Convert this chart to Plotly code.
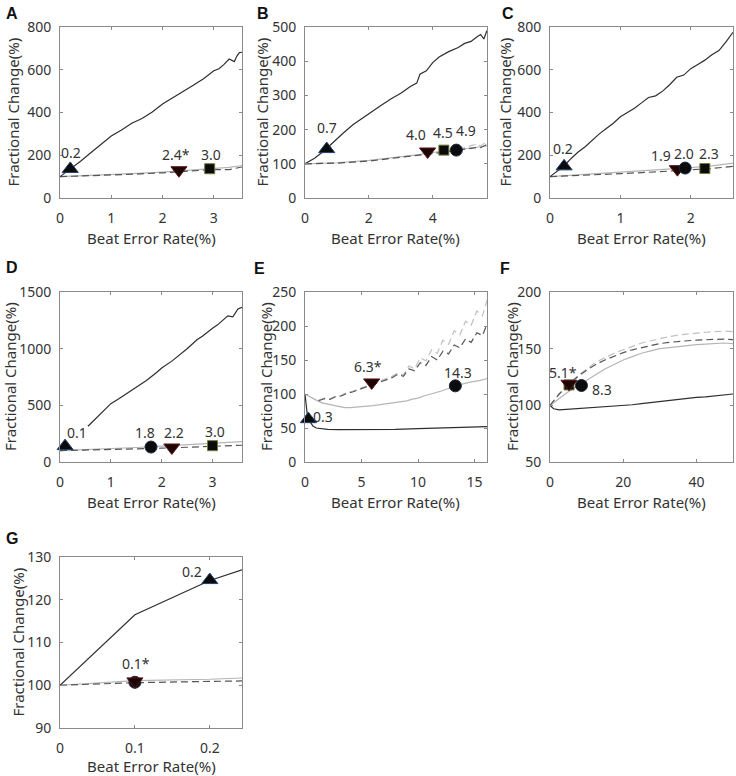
import plotly.graph_objects as go

W, H = 736, 776
FONT = "Noto Sans"
TXT = "#333333"
C_BLACK = "#2e2e2e"
C_GRAY = "#b5b5b5"
C_DDASH = "#555555"
C_LDASH = "#c0c0c0"

# ---------------- Panel A ----------------
A_bx = [0, 0.2, 0.4, 0.6, 0.8, 1.0, 1.2, 1.4, 1.6, 1.8, 2.0, 2.2, 2.4, 2.6, 2.8, 3.0, 3.1, 3.2, 3.3, 3.4, 3.45, 3.5, 3.55]
A_by = [100, 135, 172, 212, 250, 290, 318, 350, 372, 402, 440, 468, 497, 528, 558, 595, 605, 625, 650, 638, 664, 680, 682]
A_gx = [0, 0.5, 1, 1.5, 2, 2.5, 3, 3.3, 3.55]
A_gray = [100, 104, 109, 115, 121, 129, 138, 143, 152]
A_ddash = [100, 103, 107, 112, 118, 125, 133, 133, 145]
A_mk = [("up", 0.2, 136), ("down", 2.32, 130), ("square", 2.92, 137)]
A_lab = [("0.2", 0.22, 215), ("2.4*", 2.26, 202), ("3.0", 2.94, 202)]

# ---------------- Panel B ----------------
B_bx = [0, 0.3, 0.6, 0.9, 1.2, 1.5, 1.8, 2.1, 2.4, 2.7, 3.0, 3.3, 3.5, 3.6, 3.8, 4.0, 4.2, 4.5, 4.8, 5.0, 5.2, 5.4, 5.5, 5.6, 5.65, 5.7]
B_by = [100, 116, 138, 165, 190, 214, 234, 254, 272, 290, 306, 326, 336, 362, 372, 396, 412, 428, 440, 452, 458, 472, 478, 465, 478, 490]
B_gx = [0, 1, 2, 3, 3.5, 4, 4.5, 5, 5.2, 5.4, 5.5, 5.7]
B_gray = [100, 103, 110, 120, 126, 133, 138, 143, 145, 147, 148, 152]
B_ddash = [100, 102, 108, 118, 124, 130, 136, 142, 144, 148, 147, 157]
B_ldash = [100, 103, 109, 119, 125, 132, 139, 147, 153, 158, 152, 166]
B_mk = [("up", 0.68, 143), ("down", 3.84, 136), ("square", 4.35, 140), ("circle", 4.74, 140)]
B_lab = [("0.7", 0.7, 206), ("4.0", 3.48, 186), ("4.5", 4.31, 191), ("4.9", 5.05, 198)]

# ---------------- Panel C ----------------
C_bx = [0, 0.1, 0.2, 0.3, 0.4, 0.5, 0.6, 0.7, 0.8, 0.9, 1.0, 1.1, 1.2, 1.3, 1.4, 1.5, 1.6, 1.7, 1.8, 1.9, 2.0, 2.1, 2.2, 2.3, 2.4, 2.5, 2.6]
C_by = [100, 125, 150, 185, 215, 240, 270, 300, 325, 350, 380, 400, 420, 445, 470, 478, 500, 530, 565, 575, 605, 625, 645, 670, 690, 730, 775]
C_gx = [0, 0.5, 1, 1.5, 2, 2.3, 2.6]
C_gray = [100, 110, 120, 130, 142, 150, 163]
C_ddash = [100, 106, 114, 122, 132, 138, 148]
C_mk = [("up", 0.2, 148), ("down", 1.81, 135), ("circle", 1.92, 140), ("square", 2.2, 138)]
C_lab = [("0.2", 0.18, 233), ("1.9", 1.57, 197), ("2.0", 1.9, 206), ("2.3", 2.26, 210)]

# ---------------- Panel D ----------------
D_bx = [0.55, 0.7, 0.85, 1.0, 1.15, 1.3, 1.5, 1.7, 1.9, 2.0, 2.2, 2.4, 2.5, 2.7, 2.8, 3.0, 3.1, 3.2, 3.3, 3.4, 3.5, 3.58]
D_by = [315, 380, 450, 515, 555, 600, 660, 720, 790, 830, 890, 960, 1000, 1080, 1110, 1180, 1210, 1250, 1290, 1280, 1350, 1365]
D_gx = [0, 0.5, 1, 1.5, 2, 2.5, 3, 3.58]
D_gray = [100, 108, 118, 128, 140, 152, 165, 180]
D_ddash = [100, 104, 110, 116, 122, 130, 138, 148]
D_mk = [("up", 0.1, 140), ("circle", 1.79, 132), ("down", 2.2, 128), ("square", 3.0, 144)]
D_lab = [("0.1", 0.33, 256), ("1.8", 1.67, 256), ("2.2", 2.25, 256), ("3.0", 3.04, 270)]

# ---------------- Panel E ----------------
E_bx = [0, 0.1, 0.2, 0.3, 0.5, 0.7, 1, 1.5, 2, 3, 4, 5, 6, 8, 10, 12, 14, 16, 16.1]
E_by = [100, 80, 70, 63, 57, 53, 50, 48.5, 48, 47.5, 47.5, 47, 47.5, 48, 49, 50, 51, 52, 52]
E_gx = [0, 0.5, 1, 1.5, 2, 2.5, 3, 3.5, 4, 4.5, 5, 5.5, 6, 6.5, 7, 7.5, 8, 8.5, 9, 9.5, 10, 10.5, 11, 11.5, 12, 12.5, 13, 13.5, 14, 14.5, 15, 15.5, 16, 16.1]
E_gray = [100, 95, 91, 87, 85, 83, 81, 80, 80, 80.5, 81, 82, 83, 84, 85, 86.5, 88, 89, 90, 92.5, 94, 97, 99, 102, 104, 107, 110, 113, 115, 117, 118, 120, 122, 123]
E_dx = [1.2, 1.7, 2.2, 2.7, 3.2, 3.7, 4.2, 4.7, 5.2, 5.7, 6.2, 6.7, 7.2, 7.7, 8.2, 8.7, 9.2, 9.7, 10.2, 10.7, 11.2, 11.7, 12.2, 12.7, 13.2, 13.7, 14.2, 14.7, 15.2, 15.7, 16.1]
E_ddash = [90, 93, 92, 96, 97, 101, 103, 106, 109, 113, 116, 118, 122, 124, 129, 126, 137, 134, 146, 142, 155, 150, 163, 159, 172, 168, 181, 176, 190, 186, 203]
E_ldash = [91, 94, 93, 97, 98, 102, 104, 107, 110, 114, 117, 119, 123, 126, 131, 128, 141, 137, 153, 149, 165, 160, 179, 173, 193, 187, 207, 201, 222, 215, 238]
E_mk = [("up", 0.3, 63), ("down", 5.9, 117), ("circle", 13.3, 112)]
E_lab = [("0.3", 1.6, 67), ("6.3*", 5.6, 141), ("14.3", 13.5, 131)]

# ---------------- Panel F ----------------
F_x = [0, 1, 2.5, 5, 7.5, 10, 12.5, 15, 17.5, 20, 22.5, 25, 27.5, 30, 32.5, 35, 37.5, 40, 42.5, 45, 47.5, 50]
F_black = [100, 97, 96, 96.5, 97, 97.5, 98, 98.5, 99, 99.5, 100.5, 101.5, 102.5, 103.5, 104.5, 105.5, 106, 107, 107.5, 108.5, 109.5, 110]
F_gray = [100, 102, 106, 112, 117, 122, 127, 132, 136, 140, 143, 146, 148, 150, 151, 152, 153, 153.5, 154, 154.5, 155, 154.5]
F_ddash = [100, 104, 110, 118, 125, 131, 136, 140, 143.5, 146.5, 149, 151, 153, 154.5, 155.5, 156.5, 157, 157.5, 158, 158, 158.5, 158]
F_ldash = [100, 104, 110, 118, 126, 132, 138, 142, 146, 149, 152, 155, 157, 159, 160.5, 162, 163, 164, 164.5, 165, 165.5, 165]
F_mk = [("square", 5.2, 118), ("down", 5.2, 119), ("circle", 8.6, 117.5)]
F_lab = [("5.1*", 3.6, 129), ("8.3", 14.3, 114)]

# ---------------- Panel G ----------------
G_x = [0, 0.1, 0.2, 0.243]
G_black = [100, 116.5, 124.5, 127]
G_gray = [100, 101.1, 101.4, 101.7]
G_ddash = [100, 100.6, 100.9, 101]
G_mk = [("up", 0.2, 124.6), ("circle", 0.1, 100.7), ("down", 0.1, 100.9)]
G_lab = [("0.2", 0.176, 126.6), ("0.1*", 0.102, 105.1)]

panels = [
    dict(letter="A", box=(60, 27, 242, 198), xr=[0, 3.55], yr=[0, 800], xt=[0, 1, 2, 3], yt=[0, 200, 400, 600, 800],
         lines=[(A_gx, A_gray, C_GRAY, "solid"), (A_gx, A_ddash, C_DDASH, "dash"), (A_bx, A_by, C_BLACK, "solid")],
         mk=A_mk, lab=A_lab, ytx=12, lpos=(12, 13)),
    dict(letter="B", box=(305, 27, 487, 198), xr=[0, 5.7], yr=[0, 500], xt=[0, 2, 4], yt=[0, 100, 200, 300, 400, 500],
         lines=[(B_gx, B_ldash, C_LDASH, "dash"), (B_gx, B_gray, C_GRAY, "solid"), (B_gx, B_ddash, C_DDASH, "dash"), (B_bx, B_by, C_BLACK, "solid")],
         mk=B_mk, lab=B_lab, ytx=261, lpos=(263, 13)),
    dict(letter="C", box=(550, 27, 733, 198), xr=[0, 2.6], yr=[0, 800], xt=[0, 1, 2], yt=[0, 200, 400, 600, 800],
         lines=[(C_gx, C_gray, C_GRAY, "solid"), (C_gx, C_ddash, C_DDASH, "dash"), (C_bx, C_by, C_BLACK, "solid")],
         mk=C_mk, lab=C_lab, ytx=504, lpos=(508, 13)),
    dict(letter="D", box=(60, 292, 242, 462), xr=[0, 3.58], yr=[0, 1500], xt=[0, 1, 2, 3], yt=[0, 500, 1000, 1500],
         lines=[(D_gx, D_gray, C_GRAY, "solid"), (D_gx, D_ddash, C_DDASH, "dash"), (D_bx, D_by, C_BLACK, "solid")],
         mk=D_mk, lab=D_lab, ytx=10, lpos=(12, 267)),
    dict(letter="E", box=(305, 292, 487, 462), xr=[0, 16.1], yr=[0, 250], xt=[0, 5, 10, 15], yt=[0, 50, 100, 150, 200, 250],
         lines=[(E_dx, E_ldash, C_LDASH, "dash"), (E_gx, E_gray, C_GRAY, "solid"), (E_dx, E_ddash, C_DDASH, "dash"), (E_bx, E_by, C_BLACK, "solid")],
         mk=E_mk, lab=E_lab, ytx=266, lpos=(259, 268)),
    dict(letter="F", box=(550, 292, 733, 462), xr=[0, 50], yr=[50, 200], xt=[0, 20, 40], yt=[50, 100, 150, 200],
         lines=[(F_x, F_ldash, C_LDASH, "dash"), (F_x, F_gray, C_GRAY, "solid"), (F_x, F_ddash, C_DDASH, "dash"), (F_x, F_black, C_BLACK, "solid")],
         mk=F_mk, lab=F_lab, ytx=512, lpos=(505, 268)),
    dict(letter="G", box=(60, 557, 242, 728), xr=[0, 0.243], yr=[90, 130], xt=[0, 0.1, 0.2], yt=[90, 100, 110, 120, 130],
         lines=[(G_x, G_gray, C_GRAY, "solid"), (G_x, G_ddash, C_DDASH, "dash"), (G_x, G_black, C_BLACK, "solid")],
         mk=G_mk, lab=G_lab, ytx=17, lpos=(12, 538)),
]

MK = {
    "up": dict(symbol="triangle-up", size=14, color="#0b0b0b", line=dict(color="#1d3f70", width=1)),
    "down": dict(symbol="triangle-down", size=14, color="#1c0505", line=dict(color="#5e1515", width=1)),
    "square": dict(symbol="square", size=10, color="#0b0b0b", line=dict(color="#6f7d35", width=1)),
    "circle": dict(symbol="circle", size=12, color="#0b0b0b", line=dict(color="#1a2645", width=1)),
}

def px(x):
    return x / W

def py(y):
    return 1 - y / H

TITLE_Y = {27: 238, 292: 502, 557: 766}

fig = go.Figure()
layout = dict(template="none", width=W, height=H, margin=dict(l=0, r=0, t=0, b=0, autoexpand=False),
              plot_bgcolor="white", paper_bgcolor="white",
              showlegend=False, font=dict(family=FONT, size=14, color=TXT))
annotations = []

for i, p in enumerate(panels):
    n = "" if i == 0 else str(i + 1)
    xref, yref = "x" + n, "y" + n
    x0, y0, x1, y1 = p["box"]
    axcommon = dict(showgrid=False, zeroline=False, showline=True, linecolor="#8a8a8a", linewidth=1,
                    mirror="ticks", ticks="inside", ticklen=3, tickcolor="#8a8a8a", automargin=False,
                    tickfont=dict(family=FONT, size=14, color=TXT))
    layout["xaxis" + n] = dict(axcommon, domain=[px(x0), px(x1)], range=p["xr"], tickvals=p["xt"],
                               anchor=yref, ticklabelstandoff=7)
    layout["yaxis" + n] = dict(axcommon, domain=[py(y1), py(y0)], range=p["yr"], tickvals=p["yt"],
                               anchor=xref, ticklabelstandoff=5)
    for xs, ys, col, dash in p["lines"]:
        fig.add_trace(go.Scatter(x=xs, y=ys, mode="lines", xaxis=xref, yaxis=yref,
                                 line=dict(color=col, width=1.2, dash="7px,4px" if dash == "dash" else "solid")))
    for kind, mx, my in p["mk"]:
        fig.add_trace(go.Scatter(x=[mx], y=[my], mode="markers", xaxis=xref, yaxis=yref,
                                 marker=MK[kind], cliponaxis=False))
    for t, lx, ly in p["lab"]:
        annotations.append(dict(text=t, x=lx, y=ly, xref=xref, yref=yref, showarrow=False,
                                font=dict(family=FONT, size=14, color=TXT), xanchor="center", yanchor="middle"))
    annotations.append(dict(text="Beat Error Rate(%)", x=px((x0 + x1) / 2), y=py(TITLE_Y[y0]), xref="paper", yref="paper",
                            showarrow=False, font=dict(family=FONT, size=15, color=TXT), xanchor="center", yanchor="middle"))
    annotations.append(dict(text="Fractional Change(%)", x=px(p["ytx"]), y=py((y0 + y1) / 2), xref="paper", yref="paper",
                            showarrow=False, textangle=-90, font=dict(family=FONT, size=15, color=TXT),
                            xanchor="center", yanchor="middle"))
    lx, ly = p["lpos"]
    annotations.append(dict(text="<b>" + p["letter"] + "</b>", x=px(lx), y=py(ly), xref="paper", yref="paper",
                            showarrow=False, font=dict(family="Liberation Sans", size=16, color="#111"),
                            xanchor="center", yanchor="middle"))

layout["annotations"] = annotations
fig.update_layout(**layout)
fig.write_html("out.html", config={"displayModeBar": False},
               post_script="document.body.style.margin='0';document.body.style.overflow='hidden';")
